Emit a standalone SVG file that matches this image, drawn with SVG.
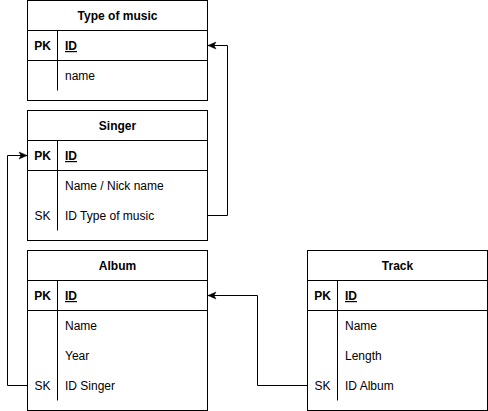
<svg xmlns="http://www.w3.org/2000/svg" width="488" height="411" viewBox="0 0 488 411">
<style>
.box{fill:#fff;stroke:#000;stroke-width:1}
.ln{fill:none;stroke:#000;stroke-width:1}
text{font-family:"Liberation Sans",Arial,sans-serif;font-size:12px;fill:#000}
.h{font-weight:bold;text-anchor:middle}
.k{text-anchor:middle}
.b{font-weight:bold}
.u{font-weight:bold;text-decoration:underline}
.c{fill:none;stroke:#000;stroke-width:1}
</style>
<defs>
<marker id="arr" markerUnits="userSpaceOnUse" markerWidth="10" markerHeight="10" viewBox="0 0 10 10" refX="9" refY="5" orient="auto">
<path d="M1,1.5 L9,5 L1,8.5 L3,5 Z" fill="#000" stroke="#000" stroke-width="0.5"/>
</marker>
</defs>
<g id="type-of-music">
<rect class="box" x="27.5" y="0.5" width="180" height="100"/>
<path class="ln" d="M27.5,30.5 H207.5 M27.5,60.5 H207.5 M57.5,30.5 V90.5"/>
<text class="h" x="117.5" y="20">Type of music</text>
<text class="k b" x="42.5" y="50">PK</text>
<text class="u" x="65" y="50">ID</text>
<text x="65" y="80">name</text>
</g>
<g id="singer">
<rect class="box" x="27.5" y="110.5" width="180" height="130"/>
<path class="ln" d="M27.5,140.5 H207.5 M27.5,170.5 H207.5 M57.5,140.5 V230.5"/>
<text class="h" x="117.5" y="130">Singer</text>
<text class="k b" x="42.5" y="160">PK</text>
<text class="u" x="65" y="160">ID</text>
<text x="65" y="190">Name / Nick name</text>
<text class="k" x="42.5" y="220">SK</text>
<text x="65" y="220">ID Type of music</text>
</g>
<g id="album">
<rect class="box" x="27.5" y="250.5" width="180" height="160"/>
<path class="ln" d="M27.5,280.5 H207.5 M27.5,310.5 H207.5 M57.5,280.5 V400.5"/>
<text class="h" x="117.5" y="270">Album</text>
<text class="k b" x="42.5" y="300">PK</text>
<text class="u" x="65" y="300">ID</text>
<text x="65" y="330">Name</text>
<text x="65" y="360">Year</text>
<text class="k" x="42.5" y="390">SK</text>
<text x="65" y="390">ID Singer</text>
</g>
<g id="track">
<rect class="box" x="307.5" y="250.5" width="180" height="160"/>
<path class="ln" d="M307.5,280.5 H487.5 M307.5,310.5 H487.5 M337.5,280.5 V400.5"/>
<text class="h" x="397.5" y="270">Track</text>
<text class="k b" x="322.5" y="300">PK</text>
<text class="u" x="345" y="300">ID</text>
<text x="345" y="330">Name</text>
<text x="345" y="360">Length</text>
<text class="k" x="322.5" y="390">SK</text>
<text x="345" y="390">ID Album</text>
</g>
<g id="connectors">
<path class="c" d="M207.5,215.5 H227.5 V45.5 H208" marker-end="url(#arr)"/>
<path class="c" d="M27.5,385.5 H7.5 V155.5 H27" marker-end="url(#arr)"/>
<path class="c" d="M307.5,385.5 H257.5 V295.5 H208" marker-end="url(#arr)"/>
</g>
</svg>
